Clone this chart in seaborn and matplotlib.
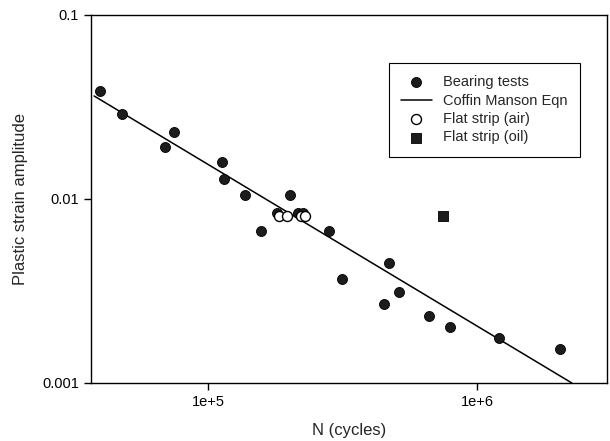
import matplotlib
matplotlib.use("Agg")
import matplotlib.pyplot as plt
import matplotlib.ticker as mticker
import seaborn as sns
import pandas as pd

# Bearing tests
bearing_N = [3.97e4, 4.79e4, 6.92e4, 7.47e4, 1.127e5, 1.147e5, 1.373e5, 2.018e5,
             1.574e5, 1.805e5, 2.16e5, 2.256e5, 2.818e5, 3.15e5, 4.71e5, 4.51e5,
             5.13e5, 6.63e5, 7.94e5, 1.207e6, 2.035e6]
bearing_eps = [0.0386, 0.0290, 0.0192, 0.0231, 0.0159, 0.01285, 0.01051, 0.0105,
               0.0067, 0.0084, 0.0084, 0.0084, 0.0067, 0.00367, 0.00449, 0.00269,
               0.00312, 0.00231, 0.00201, 0.00176, 0.00153]
# Coffin Manson line endpoints
cm_N = [3.77e4, 2.25e6]
cm_eps = [0.0363, 0.001]
# Flat strip (air)
air_N = [1.836e5, 1.966e5, 2.216e5, 2.294e5]
air_eps = [0.00809, 0.00809, 0.00809, 0.00809]
# Flat strip (oil)
oil_N = [7.47e5]
oil_eps = [0.0081]

sns.set_style("ticks")
plt.rcParams['font.family'] = ['Liberation Sans', 'DejaVu Sans']

fig = plt.figure(figsize=(6.1, 4.41), dpi=100)
ax = fig.add_axes([91/610, 1-383/441, (607-91)/610, (383-15)/441])

df_b = pd.DataFrame({"N": bearing_N, "eps": bearing_eps})
df_cm = pd.DataFrame({"N": cm_N, "eps": cm_eps})
df_a = pd.DataFrame({"N": air_N, "eps": air_eps})
df_o = pd.DataFrame({"N": oil_N, "eps": oil_eps})

sns.scatterplot(data=df_b, x="N", y="eps", ax=ax, marker="o", s=52,
                color="#1c1c1c", edgecolor="#000000", linewidth=0.6,
                label="Bearing tests", zorder=3)
sns.lineplot(data=df_cm, x="N", y="eps", ax=ax, color="black", linewidth=1.1,
             label="Coffin Manson Eqn", zorder=2)
sns.scatterplot(data=df_a, x="N", y="eps", ax=ax, marker="o", s=52,
                facecolor="white", edgecolor="black", linewidth=1.0,
                label="Flat strip (air)", zorder=4)
sns.scatterplot(data=df_o, x="N", y="eps", ax=ax, marker="s", s=42,
                color="#1c1c1c", edgecolor="#000000", linewidth=0.6,
                label="Flat strip (oil)", zorder=3)

ax.set_xscale("log")
ax.set_yscale("log")
ax.set_xlim(3.67e4, 3.04e6)
ax.set_ylim(0.001, 0.1)

ax.xaxis.set_major_locator(mticker.FixedLocator([1e5, 1e6]))
ax.xaxis.set_major_formatter(mticker.FixedFormatter(["1e+5", "1e+6"]))
ax.xaxis.set_minor_locator(mticker.NullLocator())
ax.yaxis.set_major_locator(mticker.FixedLocator([0.001, 0.01, 0.1]))
ax.yaxis.set_major_formatter(mticker.FixedFormatter(["0.001", "0.01", "0.1"]))
ax.yaxis.set_minor_locator(mticker.NullLocator())
ax.tick_params(axis="both", which="major", direction="out", length=5, width=1,
               labelsize=10.5, color="black", labelcolor="black")

for sp in ax.spines.values():
    sp.set_visible(True)
    sp.set_color("black")
    sp.set_linewidth(1.0)

ax.set_xlabel("N (cycles)", fontsize=12, labelpad=10)
ax.set_ylabel("Plastic strain amplitude", fontsize=12, labelpad=10)

leg = ax.legend(loc="upper right", bbox_to_anchor=(0.948, 0.870), fontsize=10.5,
                frameon=True, fancybox=False, edgecolor="black", framealpha=1,
                handlelength=2.1, borderpad=0.85, labelspacing=0.3,
                handletextpad=0.8, borderaxespad=0)
leg.get_frame().set_linewidth(0.8)

fig.savefig("out.png", dpi=100)
